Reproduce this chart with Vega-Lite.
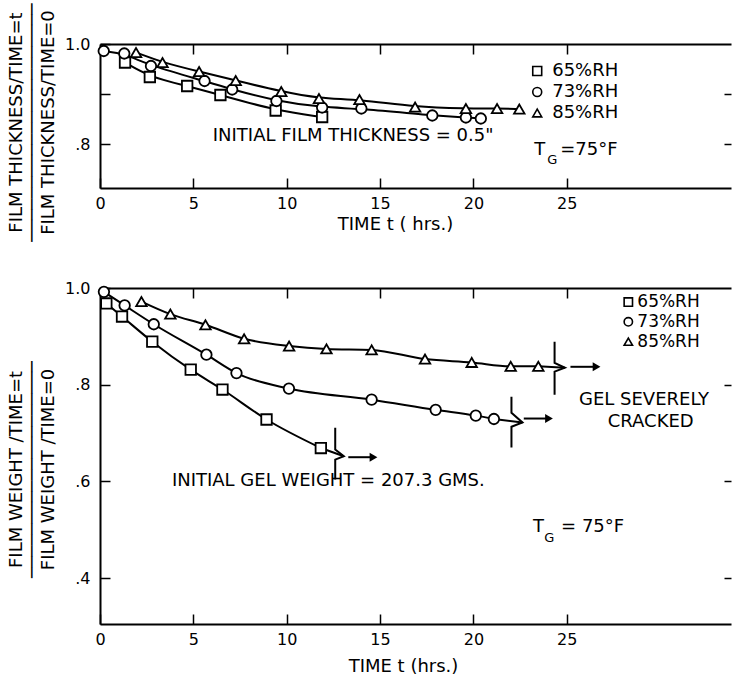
{
  "$schema": "https://vega.github.io/schema/vega-lite/v6.json",
  "background": "white",
  "padding": {"left": 7, "top": 2, "right": 0, "bottom": 0},
  "config": {
    "view": {"stroke": null},
    "font": "DejaVu Sans",
    "axis": {
      "labelFont": "DejaVu Sans", "titleFont": "DejaVu Sans",
      "labelColor": "black", "titleColor": "black",
      "domainColor": "black", "tickColor": "black",
      "domainWidth": 2, "tickWidth": 1.5, "grid": false,
      "labelFontSize": 16, "titleFontSize": 18, "titleFontWeight": "normal",
      "labelFlush": false, "labelOverlap": false
    }
  },
  "datasets": {
    "thick": [
      {"rh": "65%RH", "t": 1.34, "v": 0.963},
      {"rh": "65%RH", "t": 2.67, "v": 0.934},
      {"rh": "65%RH", "t": 4.67, "v": 0.916},
      {"rh": "65%RH", "t": 6.45, "v": 0.898},
      {"rh": "65%RH", "t": 9.41, "v": 0.867},
      {"rh": "65%RH", "t": 11.9, "v": 0.854},
      {"rh": "73%RH", "t": 0.2, "v": 0.986},
      {"rh": "73%RH", "t": 1.3, "v": 0.981},
      {"rh": "73%RH", "t": 2.73, "v": 0.956},
      {"rh": "73%RH", "t": 5.6, "v": 0.926},
      {"rh": "73%RH", "t": 7.08, "v": 0.909},
      {"rh": "73%RH", "t": 9.45, "v": 0.886},
      {"rh": "73%RH", "t": 11.9, "v": 0.873},
      {"rh": "73%RH", "t": 14.0, "v": 0.871},
      {"rh": "73%RH", "t": 17.8, "v": 0.857},
      {"rh": "73%RH", "t": 19.6, "v": 0.853},
      {"rh": "73%RH", "t": 20.4, "v": 0.851},
      {"rh": "85%RH", "t": 1.93, "v": 0.983},
      {"rh": "85%RH", "t": 3.35, "v": 0.963},
      {"rh": "85%RH", "t": 5.31, "v": 0.945},
      {"rh": "85%RH", "t": 7.27, "v": 0.927},
      {"rh": "85%RH", "t": 9.71, "v": 0.905},
      {"rh": "85%RH", "t": 11.73, "v": 0.891},
      {"rh": "85%RH", "t": 13.9, "v": 0.889},
      {"rh": "85%RH", "t": 16.88, "v": 0.874},
      {"rh": "85%RH", "t": 19.6, "v": 0.871},
      {"rh": "85%RH", "t": 21.27, "v": 0.871},
      {"rh": "85%RH", "t": 22.46, "v": 0.87}
    ],
    "weight": [
      {"rh": "65%RH", "t": 0.34, "v": 0.968},
      {"rh": "65%RH", "t": 1.18, "v": 0.941},
      {"rh": "65%RH", "t": 2.8, "v": 0.889},
      {"rh": "65%RH", "t": 4.86, "v": 0.831},
      {"rh": "65%RH", "t": 6.56, "v": 0.79},
      {"rh": "65%RH", "t": 8.92, "v": 0.728},
      {"rh": "65%RH", "t": 11.83, "v": 0.669},
      {"rh": "73%RH", "t": 0.21, "v": 0.992},
      {"rh": "73%RH", "t": 1.32, "v": 0.964},
      {"rh": "73%RH", "t": 2.88, "v": 0.925},
      {"rh": "73%RH", "t": 5.7, "v": 0.862},
      {"rh": "73%RH", "t": 7.31, "v": 0.824},
      {"rh": "73%RH", "t": 10.12, "v": 0.792},
      {"rh": "73%RH", "t": 14.55, "v": 0.769},
      {"rh": "73%RH", "t": 17.98, "v": 0.748},
      {"rh": "73%RH", "t": 20.13, "v": 0.736},
      {"rh": "73%RH", "t": 21.1, "v": 0.729},
      {"rh": "85%RH", "t": 2.22, "v": 0.972},
      {"rh": "85%RH", "t": 3.77, "v": 0.946},
      {"rh": "85%RH", "t": 5.65, "v": 0.924},
      {"rh": "85%RH", "t": 7.72, "v": 0.895},
      {"rh": "85%RH", "t": 10.13, "v": 0.88},
      {"rh": "85%RH", "t": 12.13, "v": 0.874},
      {"rh": "85%RH", "t": 14.55, "v": 0.872},
      {"rh": "85%RH", "t": 17.41, "v": 0.853},
      {"rh": "85%RH", "t": 19.91, "v": 0.846},
      {"rh": "85%RH", "t": 22.0, "v": 0.838},
      {"rh": "85%RH", "t": 23.48, "v": 0.838}
    ],
    "legendTop": [
      {"rh": "65%RH", "t": 23.42, "v": 0.946},
      {"rh": "73%RH", "t": 23.42, "v": 0.904},
      {"rh": "85%RH", "t": 23.42, "v": 0.862}
    ],
    "legendBottom": [
      {"rh": "65%RH", "t": 28.3, "v": 0.971},
      {"rh": "73%RH", "t": 28.3, "v": 0.93},
      {"rh": "85%RH", "t": 28.3, "v": 0.889}
    ],
    "breaks": [
      {"id": "b65", "seq": 1, "t": 12.6, "v": 0.711},
      {"id": "b65", "seq": 2, "t": 12.6, "v": 0.666},
      {"id": "b65", "seq": 3, "t": 13.06, "v": 0.652},
      {"id": "b65", "seq": 4, "t": 12.6, "v": 0.645},
      {"id": "b65", "seq": 5, "t": 12.6, "v": 0.604},
      {"id": "b73", "seq": 1, "t": 22.04, "v": 0.775},
      {"id": "b73", "seq": 2, "t": 22.04, "v": 0.742},
      {"id": "b73", "seq": 3, "t": 22.63, "v": 0.722},
      {"id": "b73", "seq": 4, "t": 22.04, "v": 0.713},
      {"id": "b73", "seq": 5, "t": 22.04, "v": 0.67},
      {"id": "b85", "seq": 1, "t": 24.35, "v": 0.889},
      {"id": "b85", "seq": 2, "t": 24.35, "v": 0.845},
      {"id": "b85", "seq": 3, "t": 24.9, "v": 0.835},
      {"id": "b85", "seq": 4, "t": 24.35, "v": 0.827},
      {"id": "b85", "seq": 5, "t": 24.35, "v": 0.779}
    ],
    "arrows": [
      {"kind": "link", "t": 11.83, "v": 0.669, "t2": 13.06, "v2": 0.652},
      {"kind": "link", "t": 21.1, "v": 0.729, "t2": 22.63, "v2": 0.722},
      {"kind": "link", "t": 23.48, "v": 0.838, "t2": 24.9, "v2": 0.835},
      {"kind": "arrow", "t": 13.3, "v": 0.65, "t2": 14.65, "v2": 0.65},
      {"kind": "arrow", "t": 22.7, "v": 0.73, "t2": 24.05, "v2": 0.73},
      {"kind": "arrow", "t": 25.2, "v": 0.837, "t2": 26.6, "v2": 0.837}
    ],
    "topCenter": [
      {"t": 13.56, "v": 0.816, "text": "INITIAL FILM THICKNESS = 0.5\""}
    ],
    "topLeft": [
      {"t": 23.26, "v": 0.788, "text": "T"},
      {"t": 24.65, "v": 0.788, "text": "=75°F"}
    ],
    "topSub": [
      {"t": 23.96, "v": 0.768, "text": "G"}
    ],
    "botCenter": [
      {"t": 12.23, "v": 0.6, "text": "INITIAL GEL WEIGHT = 207.3 GMS."},
      {"t": 29.14, "v": 0.769, "text": "GEL SEVERELY"},
      {"t": 29.5, "v": 0.722, "text": "CRACKED"}
    ],
    "botLeft": [
      {"t": 23.2, "v": 0.505, "text": "T"},
      {"t": 24.7, "v": 0.505, "text": "=  75°F"}
    ],
    "botSub": [
      {"t": 23.8, "v": 0.482, "text": "G"}
    ]
  },
  "bounds": "flush",
  "spacing": 100,
  "vconcat": [
    {
      "width": 631,
      "height": 144,
      "resolve": {"axis": {"x": "independent", "y": "independent"}},
      "layer": [
        {
          "data": {"name": "thick"},
          "mark": {"type": "line", "interpolate": "basis", "color": "black", "strokeWidth": 2},
          "encoding": {
            "x": {"field": "t", "type": "quantitative", "scale": {"domain": [0, 33.8], "nice": false, "zero": false},
              "axis": {"orient": "bottom", "values": [0, 5, 10, 15, 20, 25], "tickSize": -10, "labelPadding": 17,
                "title": "TIME t ( hrs.)", "titleX": 295, "titleY": 36, "titleBaseline": "middle", "titleAlign": "center"}},
            "y": {"field": "v", "type": "quantitative", "scale": {"domain": [0.712, 1.0], "nice": false, "zero": false},
              "axis": {"orient": "left", "values": [0.8, 0.9, 1.0], "tickSize": -10, "labelPadding": 20,
                "labelExpr": "datum.value > 0.85 && datum.value < 0.95 ? '' : (datum.value == 1 ? '1.0' : replace(format(datum.value, '.1f'), '0.', '.'))",
                "title": ["FILM THICKNESS/TIME=t", "──────────────────────", "FILM THICKNESS/TIME=0"],
                "titleLineHeight": 16, "titleAngle": 270, "titleX": -84, "titleY": 78, "titleBaseline": "middle", "titleAlign": "center"}},
            "detail": {"field": "rh", "type": "nominal"}
          }
        },
        {
          "data": {"name": "thick"},
          "mark": {"type": "point", "filled": true, "fill": "white", "stroke": "black", "strokeWidth": 1.8, "size": 110, "opacity": 1},
          "encoding": {
            "x": {"field": "t", "type": "quantitative",
              "axis": {"orient": "top", "values": [5, 10, 15, 20, 25], "tickSize": -10, "labels": false, "title": null}},
            "y": {"field": "v", "type": "quantitative",
              "axis": {"orient": "right", "values": [0.8, 0.9], "tickSize": -7, "labels": false, "domain": false, "title": null}},
            "shape": {"field": "rh", "type": "nominal", "legend": null,
              "scale": {"domain": ["65%RH", "73%RH", "85%RH"], "range": ["square", "circle", "triangle-up"]}}
          }
        },
        {
          "data": {"name": "legendTop"},
          "mark": {"type": "point", "filled": true, "fill": "white", "stroke": "black", "strokeWidth": 1.6, "size": 80, "opacity": 1},
          "encoding": {
            "x": {"field": "t", "type": "quantitative", "axis": null},
            "y": {"field": "v", "type": "quantitative", "axis": null},
            "shape": {"field": "rh", "type": "nominal", "legend": null}
          }
        },
        {
          "data": {"name": "legendTop"},
          "mark": {"type": "text", "align": "left", "baseline": "middle", "dx": 15, "fontSize": 18, "color": "black"},
          "encoding": {
            "x": {"field": "t", "type": "quantitative", "axis": null},
            "y": {"field": "v", "type": "quantitative", "axis": null},
            "text": {"field": "rh"}
          }
        },
        {
          "data": {"name": "topCenter"},
          "mark": {"type": "text", "align": "center", "baseline": "middle", "fontSize": 18, "color": "black"},
          "encoding": {
            "x": {"field": "t", "type": "quantitative", "axis": null},
            "y": {"field": "v", "type": "quantitative", "axis": null},
            "text": {"field": "text"}
          }
        },
        {
          "data": {"name": "topLeft"},
          "mark": {"type": "text", "align": "left", "baseline": "middle", "fontSize": 18, "color": "black"},
          "encoding": {
            "x": {"field": "t", "type": "quantitative", "axis": null},
            "y": {"field": "v", "type": "quantitative", "axis": null},
            "text": {"field": "text"}
          }
        },
        {
          "data": {"name": "topSub"},
          "mark": {"type": "text", "align": "left", "baseline": "middle", "fontSize": 13, "color": "black"},
          "encoding": {
            "x": {"field": "t", "type": "quantitative", "axis": null},
            "y": {"field": "v", "type": "quantitative", "axis": null},
            "text": {"field": "text"}
          }
        }
      ]
    },
    {
      "width": 631,
      "height": 336,
      "resolve": {"axis": {"x": "independent", "y": "independent"}},
      "layer": [
        {
          "data": {"name": "weight"},
          "mark": {"type": "line", "interpolate": "monotone", "color": "black", "strokeWidth": 2},
          "encoding": {
            "x": {"field": "t", "type": "quantitative", "scale": {"domain": [0, 33.8], "nice": false, "zero": false},
              "axis": {"orient": "bottom", "values": [0, 5, 10, 15, 20, 25], "tickSize": -10, "labelPadding": 17,
                "title": "TIME t (hrs.)", "titleX": 303, "titleY": 42, "titleBaseline": "middle", "titleAlign": "center"}},
            "y": {"field": "v", "type": "quantitative", "scale": {"domain": [0.305, 1.0], "nice": false, "zero": false},
              "axis": {"orient": "left", "values": [0.4, 0.6, 0.8, 1.0], "tickSize": -10, "labelPadding": 20,
                "labelExpr": "datum.value == 1 ? '1.0' : replace(format(datum.value, '.1f'), '0.', '.')",
                "title": ["FILM WEIGHT /TIME=t", "────────────────────", "FILM WEIGHT /TIME=0"],
                "titleLineHeight": 16, "titleAngle": 270, "titleX": -84, "titleY": 181, "titleBaseline": "middle", "titleAlign": "center"}},
            "detail": {"field": "rh", "type": "nominal"}
          }
        },
        {
          "data": {"name": "breaks"},
          "mark": {"type": "line", "color": "black", "strokeWidth": 2},
          "encoding": {
            "x": {"field": "t", "type": "quantitative", "axis": null},
            "y": {"field": "v", "type": "quantitative", "axis": null},
            "detail": {"field": "id", "type": "nominal"},
            "order": {"field": "seq", "type": "quantitative"}
          }
        },
        {
          "data": {"name": "arrows"},
          "mark": {"type": "rule", "color": "black", "strokeWidth": 2},
          "encoding": {
            "x": {"field": "t", "type": "quantitative", "axis": null},
            "y": {"field": "v", "type": "quantitative", "axis": null},
            "x2": {"field": "t2"},
            "y2": {"field": "v2"}
          }
        },
        {
          "data": {"name": "arrows"},
          "transform": [{"filter": "datum.kind == 'arrow'"}],
          "mark": {"type": "point", "shape": "triangle-right", "filled": true, "color": "black", "size": 80, "opacity": 1},
          "encoding": {
            "x": {"field": "t2", "type": "quantitative", "axis": null},
            "y": {"field": "v2", "type": "quantitative", "axis": null}
          }
        },
        {
          "data": {"name": "weight"},
          "mark": {"type": "point", "filled": true, "fill": "white", "stroke": "black", "strokeWidth": 1.8, "size": 110, "opacity": 1},
          "encoding": {
            "x": {"field": "t", "type": "quantitative",
              "axis": {"orient": "top", "values": [5, 10, 15, 20, 25], "tickSize": -10, "labels": false, "title": null}},
            "y": {"field": "v", "type": "quantitative",
              "axis": {"orient": "right", "values": [0.4, 0.6, 0.8], "tickSize": -7, "labels": false, "domain": false, "title": null}},
            "shape": {"field": "rh", "type": "nominal", "legend": null,
              "scale": {"domain": ["65%RH", "73%RH", "85%RH"], "range": ["square", "circle", "triangle-up"]}}
          }
        },
        {
          "data": {"name": "legendBottom"},
          "mark": {"type": "point", "filled": true, "fill": "white", "stroke": "black", "strokeWidth": 1.6, "size": 70, "opacity": 1},
          "encoding": {
            "x": {"field": "t", "type": "quantitative", "axis": null},
            "y": {"field": "v", "type": "quantitative", "axis": null},
            "shape": {"field": "rh", "type": "nominal", "legend": null}
          }
        },
        {
          "data": {"name": "legendBottom"},
          "mark": {"type": "text", "align": "left", "baseline": "middle", "dx": 9, "fontSize": 17, "color": "black"},
          "encoding": {
            "x": {"field": "t", "type": "quantitative", "axis": null},
            "y": {"field": "v", "type": "quantitative", "axis": null},
            "text": {"field": "rh"}
          }
        },
        {
          "data": {"name": "botCenter"},
          "mark": {"type": "text", "align": "center", "baseline": "middle", "fontSize": 18, "color": "black"},
          "encoding": {
            "x": {"field": "t", "type": "quantitative", "axis": null},
            "y": {"field": "v", "type": "quantitative", "axis": null},
            "text": {"field": "text"}
          }
        },
        {
          "data": {"name": "botLeft"},
          "mark": {"type": "text", "align": "left", "baseline": "middle", "fontSize": 18, "color": "black"},
          "encoding": {
            "x": {"field": "t", "type": "quantitative", "axis": null},
            "y": {"field": "v", "type": "quantitative", "axis": null},
            "text": {"field": "text"}
          }
        },
        {
          "data": {"name": "botSub"},
          "mark": {"type": "text", "align": "left", "baseline": "middle", "fontSize": 13, "color": "black"},
          "encoding": {
            "x": {"field": "t", "type": "quantitative", "axis": null},
            "y": {"field": "v", "type": "quantitative", "axis": null},
            "text": {"field": "text"}
          }
        }
      ]
    }
  ]
}
